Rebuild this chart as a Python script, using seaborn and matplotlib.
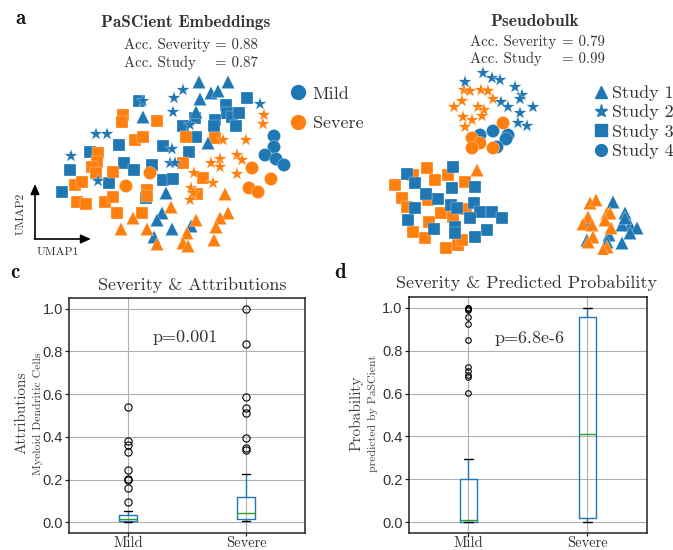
import matplotlib
matplotlib.use("Agg")
import matplotlib.pyplot as plt
import numpy as np
import pandas as pd
import seaborn as sns
from matplotlib.lines import Line2D

# ---------------- data ----------------
severity_levels = ["Mild", "Severe"]
study_levels = ["Study 1", "Study 2", "Study 3", "Study 4"]

# PaSCient embeddings: UMAP coordinates (umap1, umap2) per study / severity
emb_s1_mild = [(199, 82), (228, 82), (211, 93), (218, 91), (200, 99), (143, 117), (196, 112),
               (208, 143), (166, 193), (162, 213), (157, 220), (172, 229), (191, 226), (154, 237)]
emb_s1_severe = [(225, 194), (171, 207), (196, 220), (228, 213), (220, 218), (216, 227), (187, 233),
                 (214, 240), (183, 243), (188, 246), (133, 218), (121, 229), (147, 229), (157, 244)]
emb_s2_mild = [(183, 90), (174, 98), (173, 112), (260, 104), (96, 134), (107, 134), (71, 156),
               (98, 181), (172, 149), (170, 163), (175, 163), (190, 125), (143, 101)]
emb_s2_severe = [(264, 115), (263, 124), (223, 140), (246, 140), (211, 163), (220, 159), (220, 167),
                 (237, 155), (242, 160), (237, 174), (194, 173), (213, 183), (191, 188), (193, 193),
                 (190, 200)]
emb_s3_mild = [(139, 101), (226, 105), (227, 113), (232, 117), (239, 113), (236, 126), (247, 98),
               (215, 120), (214, 126), (195, 118), (183, 126), (196, 137), (163, 146), (189, 152),
               (119, 145), (90, 152), (70, 170), (124, 163), (134, 170), (152, 165), (163, 180),
               (173, 179), (109, 183), (62, 192), (146, 198)]
emb_s3_severe = [(123, 115), (122, 122), (157, 121), (135, 140), (143, 137), (98, 153), (97, 162),
                 (92, 167), (96, 173), (113, 172), (75, 185), (82, 182), (77, 202), (86, 204),
                 (105, 202), (113, 197), (117, 213), (142, 213), (147, 190), (147, 196), (186, 137),
                 (183, 163), (215, 138), (203, 178), (197, 194)]
emb_s4_mild = [(274, 136), (274, 147), (265, 155), (276, 159), (284, 165)]
emb_s4_severe = [(252, 168), (271, 179), (249, 188), (258, 192), (150, 173), (126, 186)]

# Pseudobulk: UMAP coordinates (umap1, umap2) per study / severity
pb_s1_mild = [(613, 202), (625, 213), (630, 225), (637, 228), (622, 225), (630, 233), (587, 240),
              (609, 235), (622, 243), (607, 242), (588, 222), (625, 218)]
pb_s1_severe = [(477, 170), (590, 203), (596, 200), (588, 217), (583, 224), (592, 225), (607, 213),
                (610, 213), (605, 220), (593, 237), (588, 242), (611, 228), (607, 247), (603, 250)]
pb_s2_mild = [(465, 82), (483, 73), (492, 78), (500, 80), (515, 87), (522, 95), (520, 99),
              (501, 102), (508, 107), (533, 107), (520, 113), (518, 123), (527, 126)]
pb_s2_severe = [(464, 90), (470, 91), (481, 90), (488, 91), (493, 99), (462, 101), (454, 107),
                (478, 107), (484, 110), (463, 117), (472, 120), (482, 116), (465, 127)]
pb_s3_mild = [(407, 174), (415, 183), (453, 167), (452, 188), (475, 187), (438, 199), (426, 194),
              (451, 205), (457, 208), (408, 220), (434, 229), (455, 227), (455, 233), (474, 203),
              (480, 212), (492, 212), (502, 218), (470, 218), (487, 230), (475, 237), (415, 208)]
pb_s3_severe = [(395, 185), (413, 175), (427, 168), (435, 180), (448, 175), (465, 182), (402, 198),
                (407, 207), (428, 200), (441, 213), (453, 217), (429, 222), (466, 209), (413, 232),
                (425, 238), (446, 248), (458, 245), (462, 240)]
pb_s4_mild = [(480, 135), (493, 131), (508, 135), (506, 139), (497, 147)]
pb_s4_severe = [(503, 123), (472, 138), (480, 143), (472, 148), (493, 148)]

acc_emb = {"severity": "0.88", "study": "0.87"}
acc_pb = {"severity": "0.79", "study": "0.99"}

# Attributions (Myeloid Dendritic Cells) per sample
attr_mild = [0.0, 0.0005, 0.001, 0.001, 0.0015, 0.002, 0.002, 0.003, 0.003, 0.004, 0.004,
             0.005, 0.006, 0.007, 0.008, 0.009, 0.010, 0.011, 0.012, 0.013, 0.014, 0.015,
             0.016, 0.018, 0.019, 0.021, 0.022, 0.024, 0.026, 0.028, 0.030, 0.032, 0.034,
             0.035, 0.045, 0.055,
             0.094, 0.162, 0.196, 0.204, 0.243, 0.33, 0.36, 0.38, 0.541]
attr_severe = [0.005, 0.007, 0.008, 0.009, 0.010, 0.011, 0.012, 0.014, 0.015,
               0.016, 0.018, 0.021, 0.024, 0.027, 0.030, 0.034, 0.038, 0.041,
               0.044, 0.050, 0.056, 0.063, 0.070, 0.080, 0.090, 0.100, 0.110,
               0.118, 0.224,
               0.34, 0.35, 0.397, 0.513, 0.533, 0.588, 0.835, 1.0]
# Predicted probability (PaSCient) per sample
prob_mild = [0.0, 0.0, 0.0, 0.0, 0.0001, 0.0002, 0.0003, 0.0005, 0.0007, 0.001, 0.0015, 0.002,
             0.0025, 0.003, 0.0035, 0.004, 0.0045, 0.005, 0.0055, 0.006, 0.0065, 0.007, 0.0072,
             0.0075, 0.0078, 0.008, 0.009, 0.012, 0.018, 0.025, 0.035, 0.05, 0.07, 0.09, 0.11,
             0.13, 0.15, 0.17, 0.19, 0.2, 0.296,
             0.604, 0.678, 0.686, 0.705, 0.723, 0.85, 0.922, 0.958, 0.99, 0.995, 0.998, 1.0]
prob_severe = [0.0, 0.002, 0.006, 0.010, 0.014, 0.018, 0.05, 0.12, 0.22, 0.32, 0.41,
               0.52, 0.65, 0.78, 0.9, 0.958, 0.97, 0.98, 0.99, 0.995, 1.0]

p_attr = "p=0.001"
p_prob = "p=6.8e-6"

# ---------------- style ----------------
C_BLUE, C_ORANGE, C_GREEN = "#1f77b4", "#ff7f0e", "#2ca02c"
TXT = "#333333"
sns.set_theme(style="ticks", rc={"axes.grid": True, "grid.color": "#b0b0b0",
                                 "grid.linewidth": 0.8, "axes.edgecolor": "#222222"})
plt.rcParams["font.family"] = ["cmr10", "DejaVu Serif"]
plt.rcParams["axes.formatter.use_mathtext"] = True
plt.rcParams["mathtext.fontset"] = "cm"

W, H = 673, 550
fig = plt.figure(figsize=(W / 100, H / 100), dpi=100)


def rect(x0, y0, x1, y1):
    return [x0 / W, 1 - y1 / H, (x1 - x0) / W, (y1 - y0) / H]


def T(x, y, s, **kw):
    kw.setdefault("color", TXT)
    kw.setdefault("ha", "center")
    kw.setdefault("va", "center")
    return fig.text(x / W, 1 - y / H, s, **kw)


def build(groups):
    rows = []
    for (study, sev), pts in groups:
        for u1, u2 in pts:
            rows.append({"umap1": u1, "umap2": u2, "study": study, "severity": sev})
    return pd.DataFrame(rows)


emb_df = build([(("Study 3", "Mild"), emb_s3_mild), (("Study 3", "Severe"), emb_s3_severe),
                (("Study 2", "Mild"), emb_s2_mild), (("Study 2", "Severe"), emb_s2_severe),
                (("Study 1", "Mild"), emb_s1_mild), (("Study 1", "Severe"), emb_s1_severe),
                (("Study 4", "Mild"), emb_s4_mild), (("Study 4", "Severe"), emb_s4_severe)])
pb_df = build([(("Study 3", "Severe"), pb_s3_severe), (("Study 3", "Mild"), pb_s3_mild),
               (("Study 2", "Severe"), pb_s2_severe), (("Study 2", "Mild"), pb_s2_mild),
               (("Study 1", "Mild"), pb_s1_mild), (("Study 1", "Severe"), pb_s1_severe),
               (("Study 4", "Mild"), pb_s4_mild), (("Study 4", "Severe"), pb_s4_severe)])

markers = {"Study 1": "^", "Study 2": "*", "Study 3": "s", "Study 4": "o"}
marker_sizes = {"Study 1": 92, "Study 2": 100, "Study 3": 80, "Study 4": 90}
palette = {"Mild": C_BLUE, "Severe": C_ORANGE}

ax_e = fig.add_axes(rect(50, 65, 300, 255))
ax_p = fig.add_axes(rect(380, 65, 660, 255))
for ax, df, (x0, x1) in [(ax_e, emb_df, (50, 300)), (ax_p, pb_df, (380, 660))]:
    sns.scatterplot(data=df, x="umap1", y="umap2", hue="severity", style="study",
                    size="study", sizes=marker_sizes, markers=markers, palette=palette,
                    linewidth=0.2, edgecolor="white", ax=ax, legend=False)
    ax.set_xlim(x0, x1)
    ax.set_ylim(255, 65)
    ax.axis("off")

# legends
sev_handles = [Line2D([], [], ls="", marker="o", color=palette[s], markersize=10, label=s)
               for s in severity_levels]
leg1 = fig.legend(handles=sev_handles, loc="upper left", bbox_to_anchor=(290 / W, 1 - 86 / H),
                  frameon=False, fontsize=13, handlelength=0.9, handletextpad=0.35,
                  labelspacing=0.78, borderpad=0, borderaxespad=0)
for t in leg1.get_texts():
    t.set_color(TXT)
study_ms = {"Study 1": 8, "Study 2": 9.5, "Study 3": 8, "Study 4": 8.5}
st_handles = [Line2D([], [], ls="", marker=markers[s], color=C_BLUE, markersize=study_ms[s],
                     label=s) for s in study_levels]
leg2 = fig.legend(handles=st_handles, loc="upper left", bbox_to_anchor=(595 / W, 1 - 85 / H),
                  frameon=False, fontsize=13, handlelength=0.7, handletextpad=0.25,
                  labelspacing=0.2, borderpad=0, borderaxespad=0)
for t in leg2.get_texts():
    t.set_color(TXT)

# panel a texts
ACC = 10.7
T(20, 18, "a", family="cmb10", fontsize=15, color="#111111")
T(186, 22, "PaSCient Embeddings", family="cmb10", fontsize=12.4)
T(124, 45, "Acc. Severity", ha="left", fontsize=ACC)
T(215, 45, "= " + acc_emb["severity"], ha="left", fontsize=ACC)
T(124, 63, "Acc. Study", ha="left", fontsize=ACC)
T(215, 63, "= " + acc_emb["study"], ha="left", fontsize=ACC)
T(535, 22, "Pseudobulk", family="cmb10", fontsize=12.5)
T(470, 42, "Acc. Severity", ha="left", fontsize=ACC)
T(562, 42, "= " + acc_pb["severity"], ha="left", fontsize=ACC)
T(470, 59, "Acc. Study", ha="left", fontsize=ACC)
T(562, 59, "= " + acc_pb["study"], ha="left", fontsize=ACC)

# UMAP axis arrows
arrow = dict(arrowstyle="-|>,head_length=0.5,head_width=0.22", color="black", lw=1.2,
             shrinkA=0, shrinkB=0)
ax_e.annotate("", xy=(35 / W, 1 - 184 / H), xytext=(35 / W, 1 - 239 / H),
              xycoords="figure fraction", textcoords="figure fraction", arrowprops=arrow)
ax_e.annotate("", xy=(91 / W, 1 - 239 / H), xytext=(34.4 / W, 1 - 239 / H),
              xycoords="figure fraction", textcoords="figure fraction", arrowprops=arrow)
T(21, 214, "UMAP2", rotation=90, fontsize=8.5)
T(58, 252, "UMAP1", fontsize=8.5)

# ---------------- box plots ----------------
attr_df = pd.DataFrame({"severity": ["Mild"] * len(attr_mild) + ["Severe"] * len(attr_severe),
                        "value": attr_mild + attr_severe})
prob_df = pd.DataFrame({"severity": ["Mild"] * len(prob_mild) + ["Severe"] * len(prob_severe),
                        "value": prob_mild + prob_severe})

ax_c = fig.add_axes(rect(69, 298, 305, 533))
ax_d = fig.add_axes(rect(409, 297, 647, 533))
for ax, df, fs in [(ax_c, attr_df, 5.2), (ax_d, prob_df, 4.0)]:
    sns.boxplot(data=df, x="severity", y="value", order=severity_levels, ax=ax, width=0.15,
                fill=False, color=C_BLUE, linewidth=1.0, whis=1.5,
                boxprops=dict(color=C_BLUE, linewidth=1.0),
                whiskerprops=dict(color=C_BLUE, linewidth=1.0),
                capprops=dict(color="black", linewidth=1.0),
                medianprops=dict(color=C_GREEN, linewidth=1.0),
                flierprops=dict(marker="o", markerfacecolor="none", markeredgecolor="black",
                                markersize=fs, markeredgewidth=0.8))
    ax.set_xlim(-0.5, 1.5)
    ax.set_ylim(-0.05, 1.05)
    ax.grid(True, axis="both", color="#b0b0b0", linewidth=0.8)
    ax.set_axisbelow(True)
    yt = [0.0, 0.2, 0.4, 0.6, 0.8, 1.0]
    ax.set_yticks(yt)
    ax.set_yticklabels([f"{v:.1f}" for v in yt], family="Liberation Sans", fontsize=10.5,
                       color=TXT)
    ax.set_xticks([0, 1])
    ax.set_xticklabels(severity_levels, fontsize=10.5, color=TXT)
    ax.tick_params(axis="y", length=3, width=0.9, color="#222222", pad=1.5)
    ax.tick_params(axis="x", length=2, width=0.9, color="#222222", pad=0.5)
    ax.set_xlabel("")
    ax.set_ylabel("")
    for sp in ax.spines.values():
        sp.set_visible(True)
        sp.set_color("#222222")
        sp.set_linewidth(1.1)

T(15, 272, "c", family="cmb10", fontsize=15, color="#111111")
T(340, 272, "d", family="cmb10", fontsize=15, color="#111111")
T(192, 285, "Severity & Attributions", fontsize=13)
T(527, 283, "Severity & Predicted Probability", fontsize=13)
T(185, 337, p_attr, fontsize=13)
T(530, 338, p_prob, fontsize=13)
T(22, 413, "Attributions", rotation=90, fontsize=11, color="#444444")
T(38, 414, "Myeloid Dendritic Cells", rotation=90, fontsize=8.5, color="#444444")
T(356, 413, "Probability", rotation=90, fontsize=11, color="#444444")
T(373, 413, "predicted by PaSCient", rotation=90, fontsize=8.5, color="#444444")

fig.savefig("out.png", dpi=100)
